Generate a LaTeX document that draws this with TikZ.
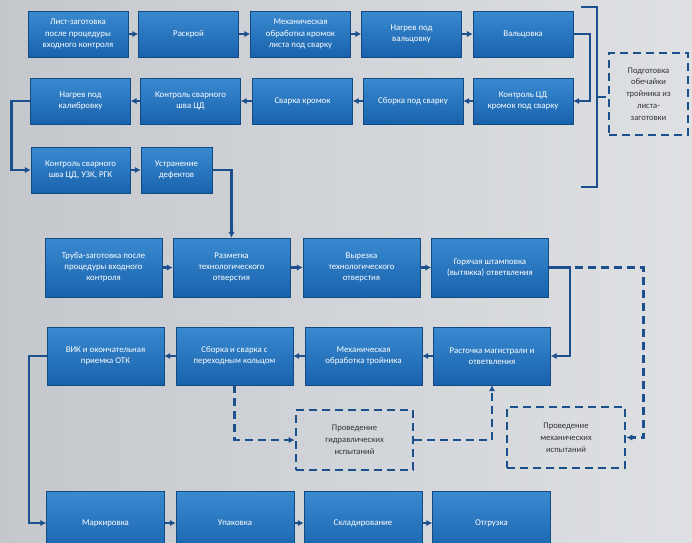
\documentclass[tikz,border=0pt]{standalone}
\usepackage{fontspec}
\setmainfont{Carlito}
\usetikzlibrary{arrows.meta,calc}
\definecolor{boxtop}{RGB}{58,138,208}
\definecolor{boxbot}{RGB}{24,98,172}
\definecolor{lnk}{RGB}{28,80,140}
\definecolor{bgl}{RGB}{196,200,205}
\definecolor{bgr}{RGB}{222,224,227}
\tikzset{
  stepbox/.style={draw=boxbot!75!black, line width=0.4pt, top color=boxtop, bottom color=boxbot,
    text=white, align=center, font=\fontsize{8.8}{11.2}\selectfont, inner sep=2pt},
  testbox/.style={draw=lnk, dash pattern=on 8pt off 5pt, line width=2.8pt, align=center,
    text=black!80, font=\fontsize{8.6}{11.8}\selectfont, inner sep=2pt},
  link/.style={draw=lnk, line width=2.4pt, -{Latex[length=6pt,width=6.5pt]}},
  testlink/.style={link, dash pattern=on 8pt off 5pt, line width=2.6pt},
}
\begin{document}
\begin{tikzpicture}[x=1pt,y=-1pt]
\fill[left color=bgl, right color=bgr] (0,0) rectangle (692,542);
\useasboundingbox (0,0) rectangle (692,542);
\foreach \n/\x/\t in {1/78/{Лист-заготовка\\после процедуры\\входного контроля},
  2/188.5/Раскрой, 3/300.5/{Механическая\\обработка кромок\\листа под сварку},
  4/411.5/{Нагрев под\\вальцовку}, 5/523/Вальцовка}
  \node[stepbox, minimum width=100pt, minimum height=46pt] (a\n) at (\x,34) {\t};
\foreach \n/\x/\t in {1/523/{Контроль ЦД\\кромок под сварку}, 2/413/Сборка под сварку,
  3/302.5/Сварка кромок, 4/190.5/{Контроль сварного\\шва ЦД}, 5/80.5/{Нагрев под\\калибровку}}
  \node[stepbox, minimum width=100pt, minimum height=46pt] (b\n) at (\x,101) {\t};
\node[stepbox, minimum width=99pt, minimum height=46pt] (c1) at (80.5,170) {Контроль сварного\\шва ЦД, УЗК, РГК};
\node[stepbox, minimum width=71pt, minimum height=46pt] (c2) at (176.5,170) {Устранение\\дефектов};
\foreach \n/\x/\t in {1/103.5/{Труба-заготовка после\\процедуры входного\\контроля},
  2/231.5/{Разметка\\технологического\\отверстия}, 3/361.5/{Вырезка\\технологического\\отверстия},
  4/490/{Горячая штамповка\\(вытяжка) ответвления}}
  \node[stepbox, minimum width=117pt, minimum height=59pt] (d\n) at (\x,267.5) {\t};
\foreach \n/\x/\t in {1/492/{Расточка магистрали и\\ответвления}, 2/363.5/{Механическая\\обработка тройника},
  3/234.5/{Сборка и сварка с\\переходным кольцом}, 4/105.5/{ВИК и окончательная\\приемка ОТК}}
  \node[stepbox, minimum width=117pt, minimum height=58pt] (e\n) at (\x,356) {\t};
\foreach \n/\x/\t in {1/105.5/Маркировка, 2/235/Упаковка, 3/363/Складирование, 4/491.5/Отгрузка}
  \node[stepbox, minimum width=118pt, minimum height=64pt] (f\n) at (\x,523) {\t};
\node[testbox, minimum width=79pt, minimum height=82pt] (prep) at (648.5,94) {Подготовка\\обечайки\\тройника из\\листа-\\заготовки};
\node[testbox, minimum width=117pt, minimum height=60pt] (hyd) at (354.5,440) {Проведение\\гидравлических\\испытаний};
\node[testbox, minimum width=118pt, minimum height=61pt] (mech) at (566,437.5) {Проведение\\механических\\испытаний};
\foreach \i/\j in {1/2,2/3,3/4,4/5}{
  \draw[link] (a\i) -- (a\j);
  \draw[link] (b\i) -- (b\j);
}
\foreach \i/\j in {1/2,2/3,3/4}{
  \draw[link] (d\i) -- (d\j);
  \draw[link] (e\i) -- (e\j);
  \draw[link] (f\i) -- (f\j);
}
\draw[link] (c1) -- (c2);
\draw[link] (a5.east) -- ++(17,0) |- (b1.east);
\draw[link] (b5.west) -- ++(-19,0) |- (c1.west);
\draw[link] (c2.east) -| (d2.north);
\draw[link] (d4.east) -- ++(21,0) |- (e1.east);
\draw[link] (e4.west) -- ++(-18,0) |- (f1.west);
\draw[testlink] (d4.east) -- ++(95,0) |- (mech.east);
\draw[testlink] (e3.south) |- (hyd.west);
\draw[testlink] (hyd.east) -| (e1.south);
\draw[lnk, line width=2.6pt] (581,7) -- (597,7) -- (597,187) -- (581,187) (597,97) -- (606,97);
\end{tikzpicture}
\end{document}
